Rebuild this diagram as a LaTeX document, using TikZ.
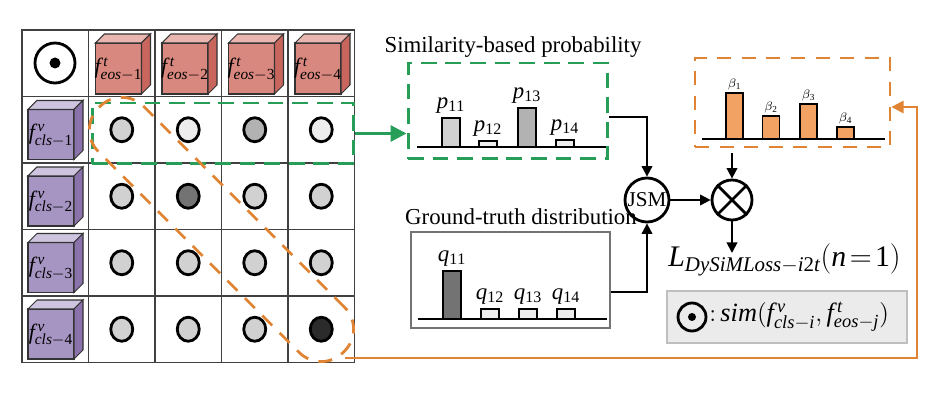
\documentclass[tikz,border=0pt]{standalone}
\usepackage{fontspec}
\setmainfont{Liberation Serif}
\usetikzlibrary{arrows.meta,positioning,calc}

\definecolor{selgreen}{RGB}{38,158,88}
\definecolor{lossorange}{RGB}{224,132,52}
\definecolor{baror}{RGB}{242,162,98}
\definecolor{eosfront}{RGB}{216,136,126}
\definecolor{eostop}{RGB}{234,182,176}
\definecolor{eosside}{RGB}{200,102,94}
\definecolor{clsfront}{RGB}{166,148,194}
\definecolor{clstop}{RGB}{206,196,224}
\definecolor{clsside}{RGB}{138,114,170}
\definecolor{dotA}{gray}{0.82}
\definecolor{dotB}{gray}{0.93}
\definecolor{dotC}{gray}{0.70}
\definecolor{dotD}{gray}{0.45}
\definecolor{dotE}{gray}{0.17}
\newcommand{\vi}[1]{\mathit{#1}}
\newcommand{\vr}[1]{\mathrm{#1}}

\begin{document}
\begin{tikzpicture}[x=0.02cm, y=-0.02cm, font=\fontsize{13}{15}\selectfont,
  gridln/.style={draw=black!75, line width=0.8pt},
  face/.style={draw=black!80, line width=0.6pt},
  sim/.style={draw, line width=1.6pt},
  bar/.style={draw, line width=0.8pt},
  axis/.style={line width=1.4pt},
  op/.style={circle, draw, line width=1.6pt, inner sep=0pt},
  fl/.style={-{Triangle[length=6pt,width=6pt]}, line width=1.1pt},
  gsel/.style={draw=selgreen, line width=1.7pt, dash pattern=on 9pt off 5pt},
  osel/.style={draw=lossorange, line width=1.6pt, dash pattern=on 8pt off 6pt},
  lbl/.style={inner sep=2.5pt},
  cubelbl/.style={font=\fontsize{12.5}{14}\selectfont, inner sep=0pt}]
\useasboundingbox (0,0) rectangle (952,404);

% similarity table
\draw[gridln] (22,30) rectangle (354.5,362.5);
\foreach \k in {1,...,4}{%
  \draw[gridln] ({22+66.5*\k},30) -- ({22+66.5*\k},362.5);
  \draw[gridln] (22,{30+66.5*\k}) -- (354.5,{30+66.5*\k});}
\node[op, minimum size=0.8cm] (corner) at (55,63) {};
\fill (corner.center) circle (5.5);

% text features along the top
\foreach \c in {1,...,4}{%
  \pgfmathsetmacro{\xo}{22+66.5*\c}
  \draw[face, fill=eosfront] (\xo+7,43) rectangle (\xo+53,94);
  \draw[face, fill=eostop] (\xo+7,43) -- (\xo+16,34) -- (\xo+62,34) -- (\xo+53,43) -- cycle;
  \draw[face, fill=eosside] (\xo+53,43) -- (\xo+62,34) -- (\xo+62,85) -- (\xo+53,94) -- cycle;
  \node[cubelbl] (eos\c) at (\xo+30,69) {$\vi{f}^{\,\vi{t}}_{\vi{eos}-\vr{\c}}$};}

% visual features down the left
\foreach \r in {1,...,4}{%
  \pgfmathsetmacro{\yo}{30+66.5*\r}
  \draw[face, fill=clsfront] (28,\yo+13) rectangle (74,\yo+63);
  \draw[face, fill=clstop] (28,\yo+13) -- (37,\yo+4) -- (83,\yo+4) -- (74,\yo+13) -- cycle;
  \draw[face, fill=clsside] (74,\yo+13) -- (83,\yo+4) -- (83,\yo+54) -- (74,\yo+63) -- cycle;
  \node[cubelbl] (cls\r) at (51,\yo+39) {$\vi{f}^{\,\vi{v}}_{\vi{cls}-\vr{\r}}$};}

% similarity scores
\foreach \r/\c/\g in {1/1/dotA, 1/2/dotB, 1/3/dotC, 1/4/dotB,
                      2/1/dotA, 2/2/dotD, 2/3/dotA, 2/4/dotA,
                      3/1/dotA, 3/2/dotA, 3/3/dotA, 3/4/dotA,
                      4/1/dotA, 4/2/dotA, 4/3/dotA, 4/4/dotE}
  \draw[sim, fill=\g] ({55.25+66.5*\c},{63.25+66.5*\r}) ellipse (11 and 12);

% row and diagonal selections
\node[gsel, minimum width=5.24cm, minimum height=1.22cm] (rowsel) at (223,133.5) {};
\node[osel, rotate=-45, minimum width=6.92cm, minimum height=1.28cm,
      rounded corners=0.62cm] (diag) at (221.5,229.5) {};

% similarity-based probability
\node (simtitle) at (513,47) {Similarity-based probability};
\node[gsel, minimum width=4cm, minimum height=1.92cm] (simbox) at (508,111) {};
\draw[axis] (417,147) -- (606,147);
\foreach \x/\t/\g/\k in {451/118/dotA/11, 488/141/dotB/12, 527/108/dotC/13, 565/140/dotB/14}{%
  \draw[bar, fill=\g] (\x-9,147) rectangle (\x+9,\t);
  \node[lbl, anchor=south] (p\k) at (\x,\t) {$\vi{p}_{\vr{\k}}$};}

% ground-truth distribution
\node (gttitle) at (521,217) {Ground-truth distribution};
\node[draw=black!55, line width=0.7pt, minimum width=3.98cm, minimum height=1.92cm] (gtbox) at (510.5,280) {};
\draw[axis] (418,319) -- (607,319);
\foreach \x/\t/\g/\k in {452/271/dotD/11, 490/309/dotB/12, 528/309/dotB/13, 566/309/dotB/14}{%
  \draw[bar, fill=\g] (\x-9,319) rectangle (\x+9,\t);
  \node[lbl, anchor=south] (q\k) at (\x,\t) {$\vi{q}_{\vr{\k}}$};}

% dynamic weights
\node[osel, minimum width=3.9cm, minimum height=1.78cm] (betabox) at (792.5,102.5) {};
\draw[axis] (702,139) -- (885,139);
\foreach \x/\t/\k in {734.5/93/1, 771/116/2, 808.5/104/3, 845.5/127/4}{%
  \draw[bar, fill=baror] (\x-8.5,139) rectangle (\x+8.5,\t);
  \node[inner sep=1.5pt, anchor=south, font=\fontsize{7.5}{9}\selectfont] (b\k) at (\x,\t) {$\beta_{\vr{\k}}$};}

% operators and loss
\node[op, minimum size=0.88cm, font=\fontsize{12}{14}\selectfont] (jsm) at (647,200) {JSM};
\node[op, minimum size=0.8cm] (mul) at (732,200) {};
\draw[line width=1.6pt] (mul.45) -- (mul.225) (mul.135) -- (mul.315);
\node[anchor=base west, inner sep=0pt, font=\fontsize{17}{20}\selectfont] (loss) at (668,267)
  {$\vi{L}_{\vi{DySiMLoss}-\vi{i}\vr{2}\vi{t}}(\vi{n}\!=\!\vr{1})$};
\coordinate (lossin) at (732,253);

% legend
\node[draw=black!25, fill=black!8, line width=1.2pt, minimum width=4.8cm, minimum height=1.04cm] (legend) at (787,317) {};
\node[op, minimum size=0.56cm] (legdot) at (692,317) {};
\fill (legdot.center) circle (4);
\node[anchor=west, inner sep=0pt, font=\fontsize{15}{18}\selectfont] (legtext) at (709,317)
  {${:}\,\vi{sim}(\vi{f}^{\,\vi{v}}_{\vi{cls}-\vi{i}},\vi{f}^{\,\vi{t}}_{\vi{eos}-\vi{j}})$};

% connectors
\draw[-{Triangle[length=9pt,width=9pt]}, selgreen, line width=1.7pt] (rowsel.east) -- (rowsel.east -| simbox.west);
\draw[fl] ([yshift=-0.12cm]simbox.east) -| (jsm.north);
\draw[fl] ([yshift=-0.24cm]gtbox.east) -| (jsm.south);
\draw[fl] (jsm) -- (mul);
\draw[fl] ([yshift=-0.1cm]mul |- betabox.south) -- (mul);
\draw[fl] (mul) -- (lossin);
\coordinate (turn) at (917,107);
\draw[-{Triangle[length=7pt,width=7pt]}, lossorange, line width=1.3pt]
  ([yshift=-0.1cm]diag.east) -| (turn) -- (turn -| betabox.east);
\end{tikzpicture}
\end{document}
